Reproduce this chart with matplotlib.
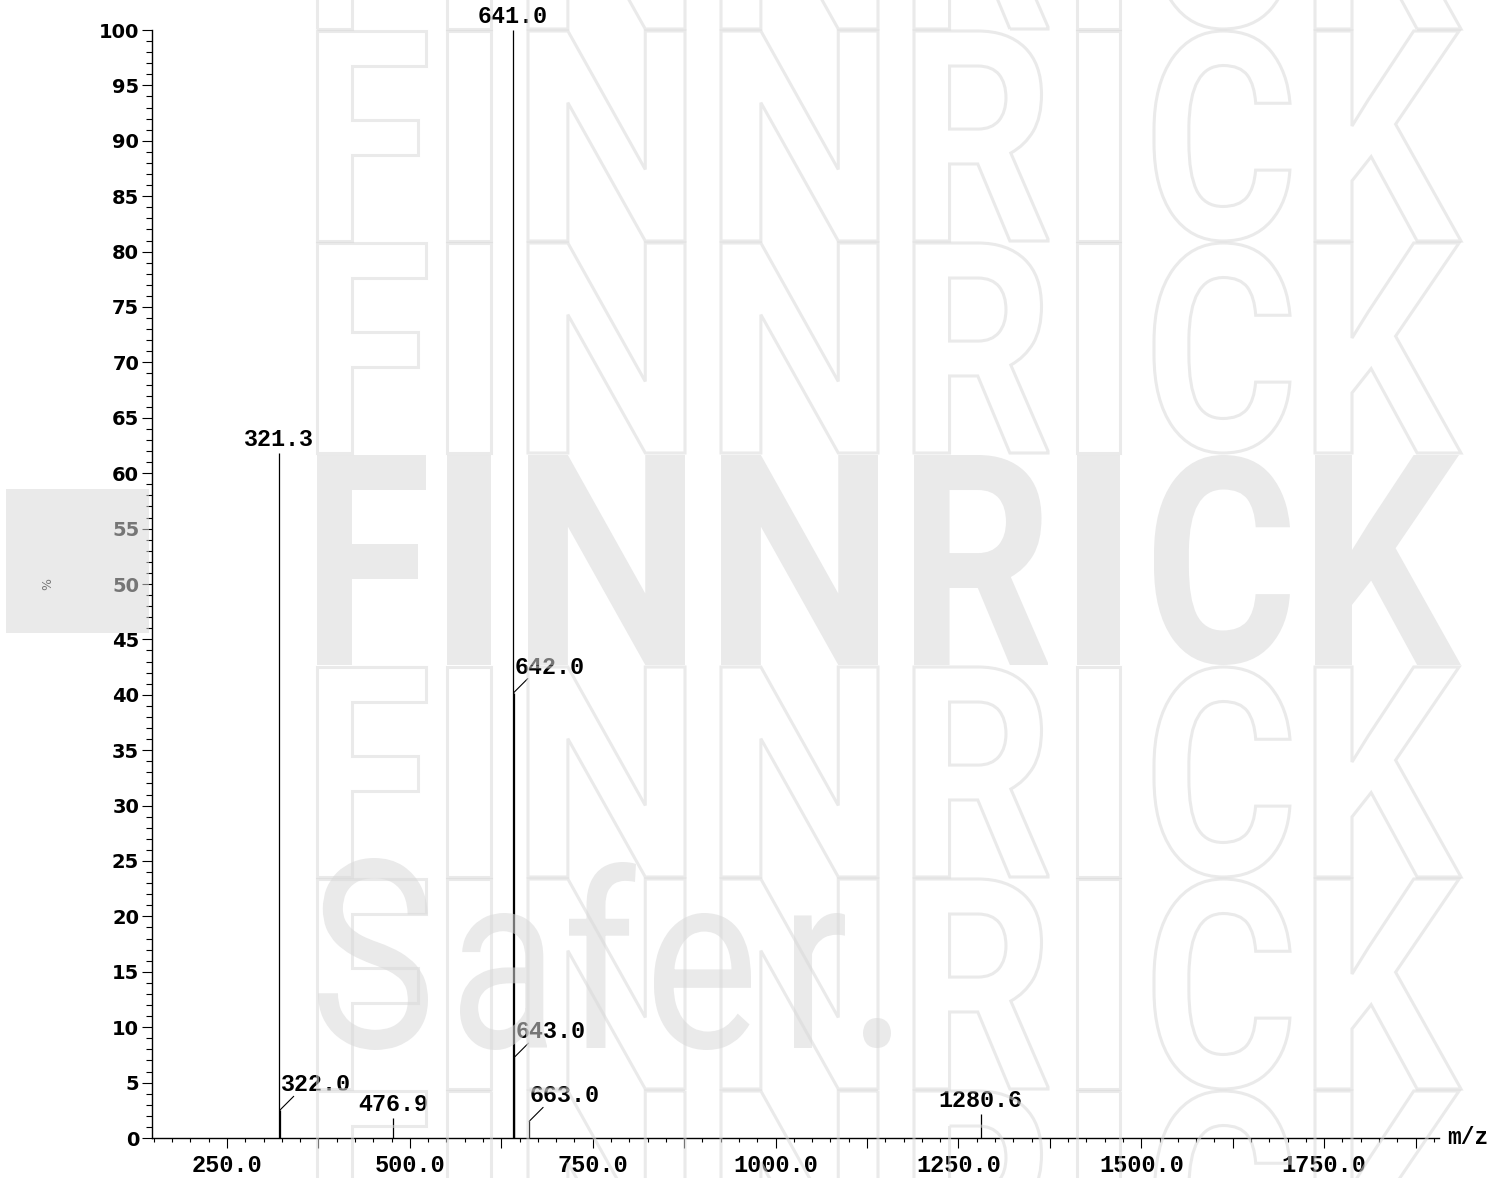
import numpy as np
import matplotlib
matplotlib.use("Agg")
import matplotlib.pyplot as plt
from matplotlib.ticker import MultipleLocator, FuncFormatter
from matplotlib.textpath import TextPath
from matplotlib.font_manager import FontProperties
from matplotlib.patches import PathPatch, Rectangle
from matplotlib.path import Path

# spectrum peaks (m/z, relative intensity %)
peak_mz = [321.3, 322.0, 476.9, 641.0, 642.0, 643.0, 663.0, 1280.6]
peak_int = [61.8, 2.5, 1.8, 100.0, 40.2, 7.3, 1.5, 2.2]
peak_labels = ["321.3", "322.0", "476.9", "641.0", "642.0", "643.0", "663.0", "1280.6"]
# labels drawn beside the peak with a short slanted leader
leader_labels = ["322.0", "642.0", "643.0", "663.0"]

W, H = 1507, 1178
MONO = "Liberation Mono"

fig = plt.figure(figsize=(W / 100, H / 100), dpi=100)
ax = fig.add_axes([152 / W, (H - 1138) / H, (1439 - 152) / W, (1138 - 30) / H])

ax.vlines(peak_mz, 0, peak_int, color="black", lw=0.9)

for mz, inten, lab in zip(peak_mz, peak_int, peak_labels):
    if lab in leader_labels:
        ax.annotate("", xy=(mz, inten), xytext=(14, 14), textcoords="offset pixels",
                    arrowprops=dict(arrowstyle="-", lw=0.8, color="black", shrinkA=0, shrinkB=0))
        ax.annotate(lab, xy=(mz, inten), xytext=(1, 19), textcoords="offset pixels",
                    ha="left", va="baseline", family=MONO, weight="bold", fontsize=16.8,
                    annotation_clip=False)
    else:
        ax.annotate(lab, xy=(mz, inten), xytext=(0, 7), textcoords="offset pixels",
                    ha="center", va="baseline", family=MONO, weight="bold", fontsize=16.8,
                    annotation_clip=False)

ax.set_xlim(147.4, 1907)
ax.set_ylim(0, 100)
for s in ["top", "right"]:
    ax.spines[s].set_visible(False)
for s in ["left", "bottom"]:
    ax.spines[s].set_linewidth(1.0)

ax.xaxis.set_major_locator(MultipleLocator(125))
ax.xaxis.set_minor_locator(MultipleLocator(25))
ax.xaxis.set_major_formatter(FuncFormatter(lambda v, p: f"{v:.1f}" if v % 250 == 0 else ""))
ax.yaxis.set_major_locator(MultipleLocator(5))
ax.yaxis.set_minor_locator(MultipleLocator(1))
ax.yaxis.set_major_formatter(FuncFormatter(lambda v, p: f"{v:.0f}"))

ax.tick_params(axis="x", which="major", length=7.2, width=0.8, pad=4)
ax.tick_params(axis="x", which="minor", length=2.9, width=0.8)
ax.tick_params(axis="y", which="major", length=7.2, width=0.8, pad=2)
ax.tick_params(axis="y", which="minor", length=4.3, width=0.8)
for t in ax.get_xticklabels():
    t.set_fontfamily(MONO)
    t.set_fontweight("bold")
    t.set_fontsize(17)
for t in ax.get_yticklabels():
    t.set_fontfamily("DejaVu Sans")
    t.set_fontweight("bold")
    t.set_fontsize(14)

ax.set_ylabel("%", fontsize=9, rotation=90)
ax.yaxis.set_label_coords(-0.076, 0.5)

ax.annotate("m/z", xy=(1, 0), xycoords="axes fraction", xytext=(8, 0),
            textcoords="offset pixels", ha="left", va="center",
            family=MONO, weight="bold", fontsize=16.5)

# watermark overlay, in pixel coords
wm = fig.add_axes([0, 0, 1, 1], zorder=10)
wm.set_xlim(0, W)
wm.set_ylim(H, 0)
wm.axis("off")
WM_COLOR = "#d9d9d9"
WM_ALPHA = 0.55


def glyph(ch, x0, x1, y0, y1, prop):
    tp = TextPath((0, 0), ch, size=1, prop=prop)
    v = tp.vertices
    keep = tp.codes != Path.CLOSEPOLY
    bx0, by0 = v[keep].min(0)
    bx1, by1 = v[keep].max(0)
    sx = (x1 - x0) / (bx1 - bx0)
    sy = (y1 - y0) / (by1 - by0)
    verts = np.column_stack([x0 + (v[:, 0] - bx0) * sx, y1 - (v[:, 1] - by0) * sy])
    return Path(verts, tp.codes)


bold = FontProperties(family="Roboto", weight="bold")
regular = FontProperties(family="Roboto", weight="normal")
letters = [("F", 317, 426), ("I", 447, 491), ("N", 528, 685), ("N", 721, 878),
           ("R", 914, 1048), ("I", 1077, 1120), ("C", 1154, 1290), ("K", 1315, 1461)]

for k in range(-1, 6):
    top = 30 + 212 * k
    for ch, x0, x1 in letters:
        p = glyph(ch, x0, x1, top + 1, top + 211, bold)
        if k == 2:
            wm.add_patch(PathPatch(p, facecolor=WM_COLOR, edgecolor="none", alpha=WM_ALPHA))
        else:
            wm.add_patch(PathPatch(p, facecolor="none", edgecolor=WM_COLOR, lw=2.2, alpha=WM_ALPHA))

safer = [("S", 318, 428, 858, 1050), ("a", 460, 547, 913, 1050), ("f", 569, 636, 862, 1048),
         ("e", 654, 751, 913, 1050), ("r", 794, 845, 913, 1048), (".", 863, 891, 1018, 1048)]
for ch, x0, x1, y0, y1 in safer:
    wm.add_patch(PathPatch(glyph(ch, x0, x1, y0, y1, regular),
                           facecolor=WM_COLOR, edgecolor="none", alpha=WM_ALPHA))

wm.add_patch(Rectangle((6, 489), 143, 144, facecolor=WM_COLOR, edgecolor="none", alpha=WM_ALPHA))

fig.savefig("out.png", dpi=100)
